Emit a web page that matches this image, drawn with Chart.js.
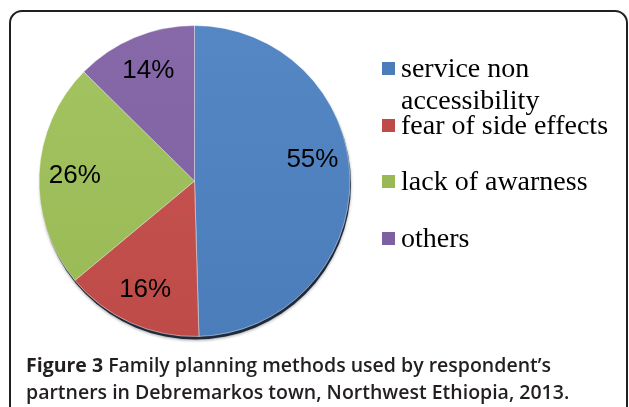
<!DOCTYPE html>
<html>
<head>
<meta charset="utf-8">
<script src="https://cdn.jsdelivr.net/npm/chart.js@4.4.1/dist/chart.umd.min.js"></script>
<style>
    html, body { margin: 0; padding: 0; background: #fff; }
    #wrap { position: relative; width: 629px; height: 407px; overflow: hidden; }
    #frame {
        position: absolute; left: 9px; top: 10px; width: 615px; height: 430px;
        border: 2px solid #231f20; border-radius: 13px;
    }
    #pieChart { position: absolute; left: 0; top: 0; }
    #legend {
        position: absolute; left: 382px; top: 52px; width: 245px;
        font-family: "Liberation Serif", "Times New Roman", serif; font-size: 28px; color: #000;
    }
    .item { position: relative; height: 56.5px; }
    .swatch { position: absolute; left: 0; top: 10px; width: 13px; height: 13px; }
    .text { position: absolute; left: 19px; top: 0; width: 220px; line-height: 32px; }
    #caption {
        position: absolute; left: 26px; top: 351px;
        font-family: "Open Sans", sans-serif; font-size: 19.5px; line-height: 27px;
        font-weight: 600; color: #231f20; white-space: nowrap;
    }
    #caption b { font-weight: 700; }
</style>
</head>
<body>
<div id="wrap">
    <div id="frame"></div>
    <canvas id="pieChart" width="629" height="407"></canvas>
    <div id="legend"></div>
    <div id="caption"><b>Figure 3</b> Family planning methods used by respondent’s<br>partners in Debremarkos town, Northwest Ethiopia, 2013.</div>
</div>
<script>
// Chart data
const categories = ['service non accessibility', 'fear of side effects', 'lack of awarness', 'others'];
const percentages = [55, 16, 26, 14];
const sliceColors = ['#4a7dba', '#be4b48', '#98b954', '#7d60a0'];
const lightColors = ['#5587c4', '#c85652', '#a3c461', '#8769aa'];

// HTML legend
const legendEl = document.getElementById('legend');
categories.forEach((name, i) => {
    const item = document.createElement('div');
    item.className = 'item';
    item.innerHTML = `<span class="swatch" style="background:${sliceColors[i]}"></span><span class="text">${name}</span>`;
    legendEl.appendChild(item);
});

// Dark rim under the pie, like the original bevel shadow
const rimPlugin = {
    id: 'rim',
    beforeDatasetsDraw(chart) {
        const arc = chart.getDatasetMeta(0).data[0];
        if (!arc) return;
        const ctx = chart.ctx;
        ctx.save();
        ctx.shadowColor = 'rgba(0,0,0,0.35)';
        ctx.shadowBlur = 3;
        ctx.shadowOffsetY = 1;
        ctx.fillStyle = '#1d2a3d';
        ctx.beginPath();
        ctx.arc(arc.x + 1, arc.y + 3, arc.outerRadius, 0, Math.PI * 2);
        ctx.fill();
        ctx.restore();
    }
};

// Percent labels inside the slices
const labelPlugin = {
    id: 'sliceLabels',
    afterDatasetsDraw(chart) {
        const ctx = chart.ctx;
        const meta = chart.getDatasetMeta(0);
        ctx.save();
        ctx.font = '26px "Liberation Sans", Arial, sans-serif';
        ctx.fillStyle = '#000';
        ctx.textAlign = 'center';
        ctx.textBaseline = 'middle';
        meta.data.forEach((arc, i) => {
            let mid = (arc.startAngle + arc.endAngle) / 2;
            // the big slice's label sits a little above its middle
            if (i === 0) mid -= 0.16;
            const r = arc.outerRadius * 0.77;
            ctx.fillText(percentages[i] + '%', arc.x + Math.cos(mid) * r, arc.y + Math.sin(mid) * r);
        });
        ctx.restore();
    }
};

function sliceFill(context) {
    const i = context.dataIndex;
    const area = context.chart.chartArea;
    if (!area) return sliceColors[i];
    const g = context.chart.ctx.createLinearGradient(0, area.top, 0, area.bottom);
    g.addColorStop(0, lightColors[i]);
    g.addColorStop(1, sliceColors[i]);
    return g;
}

const ctx = document.getElementById('pieChart').getContext('2d');
const chart = new Chart(ctx, {
    type: 'pie',
    data: {
        labels: categories,
        datasets: [{
            data: percentages,
            backgroundColor: sliceFill,
            borderColor: 'rgba(255,255,255,0.45)',
            borderWidth: 1
        }]
    },
    options: {
        responsive: false,
        animation: false,
        layout: { padding: { left: 37, top: 25, right: 277, bottom: 70 } },
        plugins: {
            legend: { display: false },
            tooltip: { enabled: false }
        }
    },
    plugins: [rimPlugin, labelPlugin]
});
</script>
</body>
</html>
